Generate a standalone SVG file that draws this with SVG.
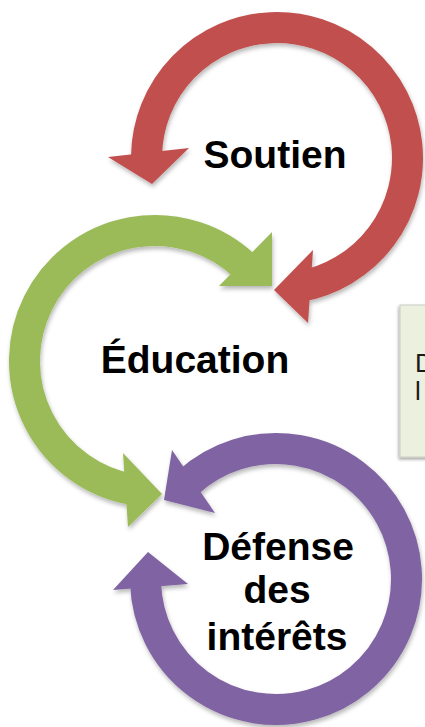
<svg xmlns="http://www.w3.org/2000/svg" width="425" height="727" viewBox="0 0 425 727">
  <defs>
    <filter id="shadow" x="-10%" y="-10%" width="130%" height="130%">
      <feDropShadow dx="1" dy="3" stdDeviation="2" flood-color="#000" flood-opacity="0.28"/>
    </filter>
    <filter id="boxshadow" x="-20%" y="-10%" width="140%" height="130%">
      <feDropShadow dx="-1" dy="2" stdDeviation="1.5" flood-color="#000" flood-opacity="0.35"/>
    </filter>
    <style>
      .ring { fill: none; stroke-width: 31; stroke-linecap: butt; }
      .label { font-family: "Liberation Sans", Arial, sans-serif; font-weight: bold; font-size: 39px; fill: #000; text-anchor: middle; }
      .red { stroke: #C0504D; } .redf { fill: #C0504D; }
      .green { stroke: #9BBB59; } .greenf { fill: #9BBB59; }
      .purple { stroke: #8064A2; } .purplef { fill: #8064A2; }
      .note { font-family: "Liberation Sans", Arial, sans-serif; font-size: 26px; fill: #1a1a1a; }
    </style>
  </defs>
  <rect width="425" height="727" fill="#fff"/>

  <g id="callout">
    <rect x="400" y="305" width="40" height="152" fill="#EBF1DE" stroke="#C9CCC2" stroke-width="1" filter="url(#boxshadow)"/>
    <text class="note" x="415" y="372">D</text>
    <text class="note" x="415" y="400">l</text>
  </g>

  <g id="node-education">
    <g filter="url(#shadow)">
      <path class="ring green" d="M 132.34 489.52 A 130.5 130.5 0 1 1 244.0 265.56"/>
      <polygon class="greenf" points="272,232 272,286 219,286"/>
      <polygon class="greenf" points="123,453 162,494 128,527"/>
    </g>
    <text class="label" x="195" y="373">Éducation</text>
  </g>

  <g id="node-defense">
    <g filter="url(#shadow)">
      <path class="ring purple" d="M 188.68 482.02 A 130.5 130.5 0 1 1 145.58 583.55"/>
      <polygon class="purplef" points="172,450 164,500 215,513"/>
      <polygon class="purplef" points="113,590 148,552 188,584"/>
    </g>
    <text class="label" x="278" y="560">Défense</text>
    <text class="label" x="277" y="603">des</text>
    <text class="label" x="277" y="650">intérêts</text>
  </g>

  <g id="node-soutien">
    <g filter="url(#shadow)">
      <path class="ring red" d="M 146.52 155.72 A 130.5 130.5 0 1 1 299.66 286.52"/>
      <polygon class="redf" points="108,157 189,148 152,184"/>
      <polygon class="redf" points="313,250 308,323 274,290"/>
    </g>
    <text class="label" x="275" y="168">Soutien</text>
  </g>

  <g id="connectors"/>
</svg>
